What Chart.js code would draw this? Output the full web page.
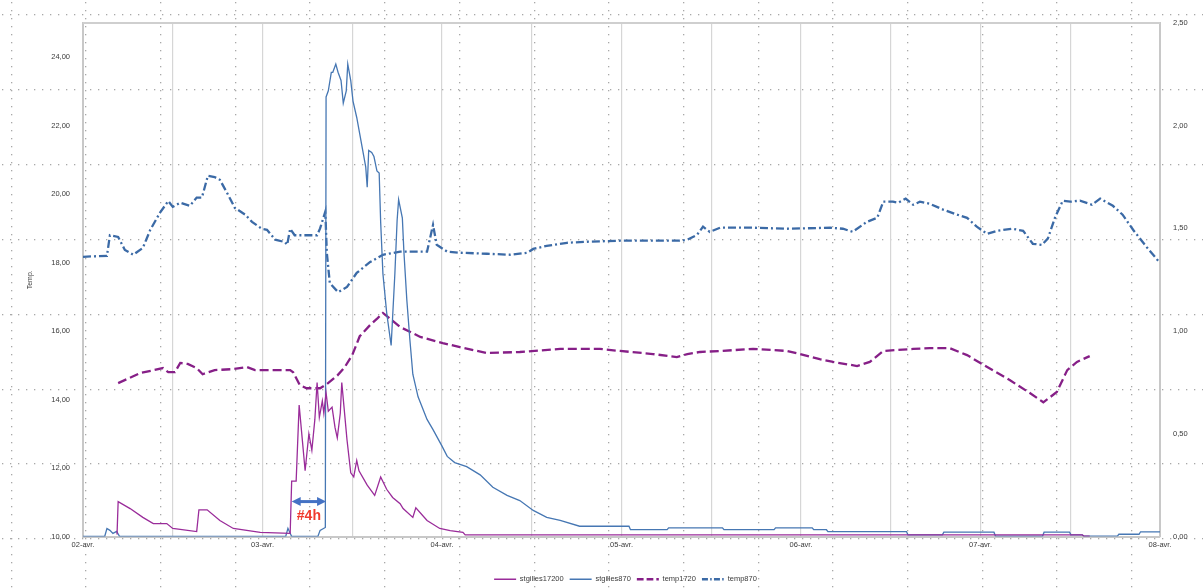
<!DOCTYPE html>
<html>
<head>
<meta charset="utf-8">
<script src="https://cdn.jsdelivr.net/npm/chart.js@4.4.1/dist/chart.umd.min.js"></script>
<style>
  html, body { margin: 0; padding: 0; background: #fff; }
  #wrap { width: 1203px; height: 588px; }
</style>
</head>
<body>
<div id="wrap"><canvas id="c" width="1203" height="588"></canvas></div>
<script>
// ---- Data (hours since 02-avr. 00:00) ----
const dayLabels = ['02-avr.', '03-avr.', '04-avr.', '05-avr.', '06-avr.', '07-avr.', '08-avr.'];
const gridHours = [0, 12, 24, 36, 48, 60, 72, 84, 96, 108, 120, 132, 144];
const leftTicks = [10, 12, 14, 16, 18, 20, 22, 24];
const rightTicks = [0, 0.5, 1, 1.5, 2, 2.5];

const flow17200Hours = [4.55,4.7,6.3,8.0,9.4,11.2,12.0,15.2,15.5,16.6,18.3,20.1,23.7,27.7,27.9,28.5,28.9,29.3,29.7,30.2,30.6,31.0,31.3,31.6,32.0,32.2,32.5,32.8,33.3,33.7,34.0,34.4,34.6,34.9,35.3,35.8,36.2,36.6,36.9,38.0,39.0,39.8,40.6,41.4,42.4,42.8,44.1,44.5,46.0,47.7,49.1,50.8,51.1,133.6,133.8,134.6];
const flow17200Values = [0.01,0.17,0.136,0.093,0.063,0.063,0.039,0.024,0.13,0.13,0.078,0.039,0.02,0.015,0.27,0.27,0.64,0.48,0.32,0.50,0.42,0.57,0.75,0.58,0.66,0.60,0.70,0.61,0.63,0.53,0.48,0.60,0.75,0.63,0.47,0.31,0.29,0.37,0.32,0.25,0.20,0.29,0.23,0.19,0.16,0.136,0.093,0.14,0.078,0.039,0.029,0.02,0.008,0.008,0.002,0.002];

const flow870Hours = [0,2.9,3.2,3.6,4.0,4.5,4.9,27.1,27.4,27.9,31.4,31.7,32.4,32.5,32.8,33.2,33.4,33.8,34.1,34.5,34.8,35.2,35.4,35.8,36.1,36.6,37.0,37.4,37.8,38.0,38.2,38.6,38.9,39.3,39.6,39.8,40.1,40.6,41.2,41.4,41.7,42.0,42.2,42.7,42.9,43.3,43.7,44.1,44.8,46.0,46.8,48.0,48.7,49.7,51.3,53.1,54.8,56.7,58.4,60.2,62.0,63.8,66.4,73.0,73.2,78.1,78.3,85.5,85.7,92.4,92.6,97.5,97.7,99.4,99.6,110.1,110.3,114.9,115.1,121.8,122.0,128.3,128.5,131.9,132.1,133.6,133.8,138.3,138.5,141.2,141.4,144];
const flow870Values = [0,0,0.039,0.03,0.015,0.025,0,0,0.04,0,0,0.03,0.044,2.14,2.17,2.26,2.26,2.30,2.26,2.22,2.11,2.17,2.30,2.22,2.12,2.04,1.96,1.88,1.80,1.70,1.88,1.87,1.85,1.78,1.77,1.53,1.28,1.09,0.93,1.07,1.28,1.54,1.64,1.55,1.39,1.15,0.96,0.79,0.68,0.57,0.52,0.44,0.39,0.36,0.34,0.30,0.24,0.20,0.175,0.127,0.093,0.078,0.05,0.05,0.033,0.033,0.042,0.042,0.033,0.033,0.042,0.042,0.033,0.033,0.024,0.024,0.008,0.008,0.021,0.021,0.002,0.002,0.021,0.021,0.008,0.008,0.002,0.002,0.011,0.011,0.023,0.023];

const temp1720Hours = [4.7,7.6,10.7,11.4,12.3,13.0,14.0,15.2,16.0,17.6,20.1,21.9,23.0,27.7,28.1,29.0,29.9,31.7,32.6,34.0,35.0,36.0,37.0,38.4,39.4,40.1,42.4,45.1,48.1,50.4,54.0,58.4,63.8,69.1,71.8,76.2,79.4,80.8,82.5,85.2,89.6,94.1,95.9,98.5,100.3,103.5,105.2,107.0,111.0,113.2,115.9,118.2,120.9,123.9,126.6,128.4,130.2,131.6,132.9,134.6];
const temp1720Values = [14.48,14.77,14.92,14.8,14.8,15.07,15.04,14.92,14.74,14.86,14.89,14.95,14.86,14.86,14.8,14.42,14.33,14.33,14.45,14.7,14.95,15.3,15.85,16.18,16.38,16.53,16.12,15.83,15.65,15.53,15.36,15.39,15.48,15.48,15.42,15.33,15.24,15.33,15.39,15.42,15.48,15.42,15.33,15.18,15.1,14.98,15.1,15.42,15.48,15.5,15.5,15.3,14.95,14.57,14.19,13.92,14.22,14.86,15.1,15.27];

const temp870Hours = [0,3.2,3.6,4.7,5.6,6.7,8.0,9.0,10.3,11.4,12.0,13.0,14.3,15.2,15.9,16.7,17.6,18.3,19.4,20.3,21.7,22.6,23.9,24.6,25.7,27.0,27.3,27.7,28.3,31.3,31.7,32.4,32.6,33.0,34.1,35.3,36.6,38.4,40.1,42.4,46.0,46.8,47.3,48.7,50.4,54.0,57.1,59.4,60.2,62.0,64.7,67.4,71.8,79.8,80.8,82.1,82.9,83.8,85.2,89.6,94.1,99.9,101.6,102.9,104.8,106.2,107.0,108.3,109.0,110.0,111.0,111.9,113.2,115.0,117.3,118.2,119.5,120.9,122.2,124.3,125.7,127.0,128.2,129.0,130.0,131.0,132.0,133.3,134.9,136.0,137.7,139.0,140.4,142.2,144.0];
const temp870Values = [18.17,18.2,18.8,18.75,18.37,18.23,18.43,18.96,19.46,19.8,19.63,19.75,19.66,19.9,19.9,20.54,20.5,20.42,19.98,19.6,19.4,19.19,18.99,18.96,18.67,18.6,18.52,18.99,18.8,18.8,19.0,19.49,18.29,17.4,17.14,17.29,17.7,18.02,18.23,18.32,18.32,19.1,18.52,18.32,18.29,18.26,18.23,18.29,18.4,18.49,18.58,18.61,18.64,18.64,18.67,18.81,19.05,18.9,19.02,19.02,18.99,19.02,18.99,18.9,19.19,19.31,19.78,19.78,19.75,19.87,19.69,19.78,19.72,19.55,19.37,19.31,19.05,18.84,18.93,18.99,18.93,18.55,18.52,18.7,19.34,19.81,19.78,19.81,19.69,19.87,19.66,19.4,18.96,18.46,17.99];

// annotation: "#4h" between the two flow onsets
const noteHours = [27.9, 32.5];
const noteArrowLevel = 0.17;
const noteTextLevel = 0.097;
const noteText = '#4h';

// ---- helpers ----
const pts = (h, v) => h.map((x, i) => ({ x: x, y: v[i] }));
const fmt = v => Number(v).toFixed(2).replace('.', ',');
const FONT = 'Liberation Sans';
const TXT = '#3a3a3a';

const bgGrid = {
  id: 'bgGrid',
  beforeDraw(chart) {
    const ctx = chart.ctx, W = chart.width, H = chart.height;
    ctx.save();
    ctx.fillStyle = '#ffffff';
    ctx.fillRect(0, 0, W, H);
    ctx.fillStyle = '#a8a8a8';
    for (let y = 14; y < H; y += 74.9) {
      const yy = Math.round(y);
      for (let x = 2; x < W; x += 8) ctx.fillRect(x, yy, 1.3, 1.3);
    }
    for (let x = 10.6; x < W; x += 74.7) {
      const xx = Math.round(x);
      for (let y = 2; y < H; y += 8) ctx.fillRect(xx, y, 1.3, 1.3);
    }
    ctx.restore();
  },
  beforeDatasetsDraw(chart) {
    const a = chart.chartArea, ctx = chart.ctx;
    ctx.save();
    ctx.strokeStyle = '#cfcfcf';
    ctx.lineWidth = 2;
    ctx.beginPath();
    ctx.moveTo(a.left, a.top);
    ctx.lineTo(a.right, a.top);
    ctx.stroke();
    ctx.restore();
  },
  afterLayout(chart) {
    const lg = chart.legend;
    if (lg) { lg.left += 24; lg.right += 24; lg.top += 7; lg.bottom += 7; }
  }
};

const noteAnn = {
  id: 'noteAnn',
  afterDatasetsDraw(chart) {
    const ctx = chart.ctx, xs = chart.scales.x, ys = chart.scales.yQ;
    const x1 = xs.getPixelForValue(noteHours[0]);
    const x2 = xs.getPixelForValue(noteHours[1]);
    const y = ys.getPixelForValue(noteArrowLevel);
    ctx.save();
    ctx.strokeStyle = '#4472c4';
    ctx.fillStyle = '#4472c4';
    ctx.lineWidth = 3;
    ctx.beginPath();
    ctx.moveTo(x1 + 6, y); ctx.lineTo(x2 - 6, y); ctx.stroke();
    ctx.beginPath();
    ctx.moveTo(x1, y); ctx.lineTo(x1 + 9, y - 4.5); ctx.lineTo(x1 + 9, y + 4.5); ctx.closePath(); ctx.fill();
    ctx.beginPath();
    ctx.moveTo(x2, y); ctx.lineTo(x2 - 9, y - 4.5); ctx.lineTo(x2 - 9, y + 4.5); ctx.closePath(); ctx.fill();
    ctx.fillStyle = '#f03a2e';
    ctx.font = 'bold 14px "' + FONT + '"';
    ctx.textAlign = 'center';
    ctx.textBaseline = 'middle';
    ctx.fillText(noteText, (x1 + x2) / 2, ys.getPixelForValue(noteTextLevel));
    ctx.restore();
  }
};

new Chart(document.getElementById('c'), {
  type: 'line',
  data: {
    datasets: [
      { label: 'stgilles17200', data: pts(flow17200Hours, flow17200Values), yAxisID: 'yQ',
        borderColor: '#9a2c9a', borderWidth: 1.3, pointRadius: 0, tension: 0, fill: false, order: 1 },
      { label: 'stgilles870', data: pts(flow870Hours, flow870Values), yAxisID: 'yQ',
        borderColor: '#4677b3', borderWidth: 1.3, pointRadius: 0, tension: 0, fill: false, order: 2 },
      { label: 'temp1720', data: pts(temp1720Hours, temp1720Values), yAxisID: 'yT',
        borderColor: '#861f87', borderWidth: 2.3, borderDash: [9, 4], pointRadius: 0, tension: 0, fill: false, order: 3 },
      { label: 'temp870', data: pts(temp870Hours, temp870Values), yAxisID: 'yT',
        borderColor: '#3b6aa6', borderWidth: 2.3, borderDash: [8, 3, 2, 3], pointRadius: 0, tension: 0, fill: false, order: 4 }
    ]
  },
  options: {
    responsive: false,
    animation: false,
    layout: { padding: { top: 23, bottom: 2, left: 0, right: 0 } },
    plugins: {
      tooltip: { enabled: false },
      legend: {
        position: 'bottom',
        labels: {
          usePointStyle: true, pointStyle: 'line', pointStyleWidth: 22,
          font: { family: FONT, size: 7.5 }, color: TXT, padding: 6,
          generateLabels: chart => {
            const items = Chart.defaults.plugins.legend.labels.generateLabels(chart);
            items.forEach(it => {
              const ds = chart.data.datasets[it.datasetIndex];
              it.lineDash = ds.borderDash ? ds.borderDash.map(d => d * 0.75) : [];
              it.lineWidth = ds.borderWidth;
              it.strokeStyle = ds.borderColor;
              it.fillStyle = ds.borderColor;
              it.pointStyle = 'line';
            });
            return items;
          }
        }
      }
    },
    scales: {
      x: {
        type: 'linear', min: 0, max: 144,
        afterBuildTicks: s => { s.ticks = gridHours.map(v => ({ value: v })); },
        afterFit: s => { s.height = 26; },
        ticks: {
          autoSkip: false, maxRotation: 0, padding: 4,
          font: { family: FONT, size: 7.5 }, color: TXT,
          callback: v => (v % 24 === 0 ? dayLabels[v / 24] : '')
        },
        grid: { color: '#d6d6d6', lineWidth: 1.2, drawTicks: false },
        border: { color: '#c8c8c8', width: 2 }
      },
      yT: {
        type: 'linear', position: 'left', min: 10, max: 25,
        afterBuildTicks: s => { s.ticks = leftTicks.map(v => ({ value: v })); },
        afterFit: s => { s.width = 83; },
        ticks: { padding: 5, font: { family: FONT, size: 7.5 }, color: TXT, callback: v => fmt(v) },
        grid: { display: false },
        border: { display: true, color: '#c8c8c8', width: 2 },
        title: { display: true, text: 'Temp.', font: { family: FONT, size: 7 }, color: TXT, padding: { top: 26, bottom: 0 } }
      },
      yQ: {
        type: 'linear', position: 'right', min: 0, max: 2.5,
        afterBuildTicks: s => { s.ticks = rightTicks.map(v => ({ value: v })); },
        afterFit: s => { s.width = 43; },
        ticks: { padding: 5, font: { family: FONT, size: 7.5 }, color: TXT, callback: v => fmt(v) },
        grid: { display: false },
        border: { display: true, color: '#c8c8c8', width: 2 }
      }
    }
  },
  plugins: [bgGrid, noteAnn]
});
</script>
</body>
</html>
